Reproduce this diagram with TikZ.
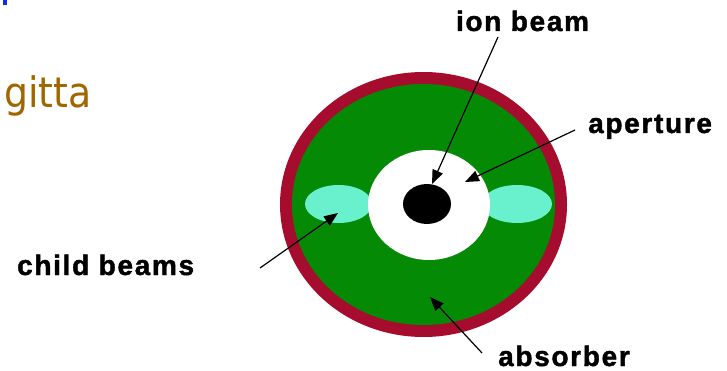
\documentclass[tikz,border=0pt]{standalone}
\usepackage{fontspec}
\setmainfont{Liberation Sans}
\newfontfamily\lblfont[LetterSpace=6,FakeBold=1.5]{Liberation Sans}
\newfontfamily\titlefont{DejaVu Sans}
\usetikzlibrary{arrows.meta}
\definecolor{ringred}{RGB}{165,12,45}
\definecolor{absgreen}{RGB}{5,138,5}
\definecolor{beamcyan}{RGB}{105,240,205}
\definecolor{titlebrown}{RGB}{160,102,0}
\definecolor{markblue}{RGB}{20,45,225}
\tikzset{
  lbl/.style={inner sep=0pt, font=\lblfont\bfseries\fontsize{28}{32}\selectfont},
  ptr/.style={line width=1.2pt, -{Triangle[length=14pt,width=11pt]}}
}
\begin{document}
\begin{tikzpicture}[x=1pt,y=-1pt]
\useasboundingbox (0,0) rectangle (727,371);
% fragments at the left
\fill[markblue] (3,0) rectangle (7,5);
\node[inner sep=0pt, anchor=base west, text=titlebrown, xscale=0.9, transform shape, font=\titlefont\fontsize{42}{48}\selectfont] (title) at (4,108) {gitta};
% disc
\fill[ringred] (423.5,204.5) ellipse [x radius=143.5pt, y radius=132.5pt];
\fill[absgreen] (423.5,204.5) ellipse [x radius=131.5pt, y radius=120.5pt];
\fill[beamcyan] (338.5,204) ellipse [x radius=33.5pt, y radius=19pt];
\fill[beamcyan] (517,204) ellipse [x radius=35pt, y radius=19pt];
\fill[white] (429,205) ellipse [x radius=61pt, y radius=55pt];
\fill[black] (427,204) ellipse [x radius=24pt, y radius=20pt];
% targets
\coordinate (tIon) at (432,184);
\coordinate (tAp) at (465,182);
\coordinate (tChild) at (338,213);
\coordinate (tAbs) at (430,297);
% labels
\node[lbl, anchor=base] (ion) at (522.5,31) {ion beam};
\node[lbl, anchor=base west] (ap) at (588,133) {aperture};
\node[lbl, anchor=base west] (child) at (17,275) {child beams};
\node[lbl, anchor=base west] (abs) at (498,366) {absorber};
% start points of arrows
\coordinate (sIon) at (498,37);
\coordinate (sAp) at (575,130);
\coordinate (sChild) at (260,268);
\coordinate (sAbs) at (482,353);
\draw[ptr] (sIon) -- (tIon);
\draw[ptr] (sAp) -- (tAp);
\draw[ptr] (sChild) -- (tChild);
\draw[ptr] (sAbs) -- (tAbs);
\end{tikzpicture}
\end{document}
